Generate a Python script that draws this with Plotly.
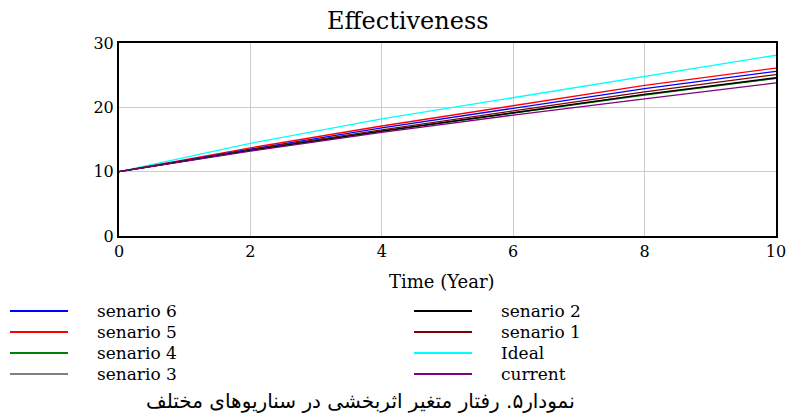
import plotly.graph_objects as go

# ---- data ----
years = [0, 2, 4, 6, 8, 10]
senario_6 = [10, 13.5, 16.8, 19.8, 22.9, 25.6]
senario_5 = [10, 13.7, 17.1, 20.3, 23.4, 26.1]
senario_4 = [10, 13.3, 16.3, 19.1, 21.9, 24.5]
senario_3 = [10, 13.3, 16.3, 19.2, 22.0, 24.5]
senario_2 = [10, 13.3, 16.3, 19.2, 22.0, 24.6]
senario_1 = [10, 13.4, 16.5, 19.5, 22.4, 25.1]
ideal = [10, 14.4, 18.2, 21.5, 24.8, 28.1]
current = [10, 13.2, 16.1, 18.8, 21.3, 23.8]

names = ["senario 6", "senario 5", "senario 4", "senario 3",
         "senario 2", "senario 1", "Ideal", "current"]
series = [senario_6, senario_5, senario_4, senario_3,
          senario_2, senario_1, ideal, current]
colors = ["#0000ff", "#ff0000", "#008000", "#808080",
          "#000000", "#800000", "#00ffff", "#800080"]

x_ticks = [0, 2, 4, 6, 8, 10]
y_ticks = [0, 10, 20, 30]
title_text = "Effectiveness"
x_title = "Time (Year)"
caption = "نمودار۵. رفتار متغیر اثربخشی در سناریوهای مختلف"

W, H = 787, 414
L, R, T, B = 119, 776, 43, 236


def px(x):
    return (x - L) / (R - L)


def py(y):
    return (B - y) / (B - T)


fig = go.Figure()
draw_order = [6, 1, 0, 5, 3, 2, 4, 7]
for i in draw_order:
    fig.add_trace(go.Scatter(x=years, y=series[i], mode="lines", name=names[i],
                             line=dict(color=colors[i], width=1.3),
                             showlegend=False))

serif = "DejaVu Serif"
shapes = []
annotations = []
row_y = [311, 332, 353, 374]
for k, (nm, col) in enumerate(zip(names, colors)):
    colx = k // 4
    r = k % 4
    lx0, lx1, tx = (10, 68, 95) if colx == 0 else (414, 472, 499)
    yy = py(row_y[r])
    shapes.append(dict(type="line", xref="paper", yref="paper",
                       x0=px(lx0), x1=px(lx1), y0=yy, y1=yy,
                       line=dict(color=col, width=2)))
    annotations.append(dict(text=nm, xref="paper", yref="paper", x=px(tx), y=yy,
                            xanchor="left", yanchor="middle", showarrow=False,
                            font=dict(family=serif, size=17, color="#000")))

annotations.append(dict(text=title_text, xref="paper", yref="paper", x=px(408), y=py(21),
                        xanchor="center", yanchor="middle", showarrow=False,
                        font=dict(family=serif, size=24, color="#000")))
annotations.append(dict(text=x_title, xref="paper", yref="paper", x=px(442), y=py(281),
                        xanchor="center", yanchor="middle", showarrow=False,
                        font=dict(family=serif, size=18, color="#000")))
annotations.append(dict(text=caption, xref="paper", yref="paper", x=px(360), y=py(401),
                        xanchor="center", yanchor="middle", showarrow=False,
                        font=dict(family="DejaVu Sans", size=20, color="#000")))

fig.update_layout(
    width=W, height=H,
    margin=dict(l=L, r=W - R, t=T, b=H - B, pad=0, autoexpand=False),
    paper_bgcolor="white", plot_bgcolor="white",
    shapes=shapes, annotations=annotations,
    xaxis=dict(range=[0, 10], tickvals=x_ticks, showgrid=True, gridcolor="#cccccc",
               gridwidth=1, zeroline=False, showline=True, linecolor="black",
               linewidth=2, mirror=True, ticks="", ticklen=0, automargin=False,
               tickfont=dict(family=serif, size=16, color="#000")),
    yaxis=dict(range=[0, 30], tickvals=y_ticks, showgrid=True, gridcolor="#cccccc",
               gridwidth=1, zeroline=False, showline=True, linecolor="black",
               linewidth=2, mirror=True, ticks="", ticklen=0, automargin=False,
               tickfont=dict(family=serif, size=16, color="#000")),
)

fig.write_html("out.html", config={"displayModeBar": False},
               post_script="document.body.style.margin='0';document.body.style.overflow='hidden';")
